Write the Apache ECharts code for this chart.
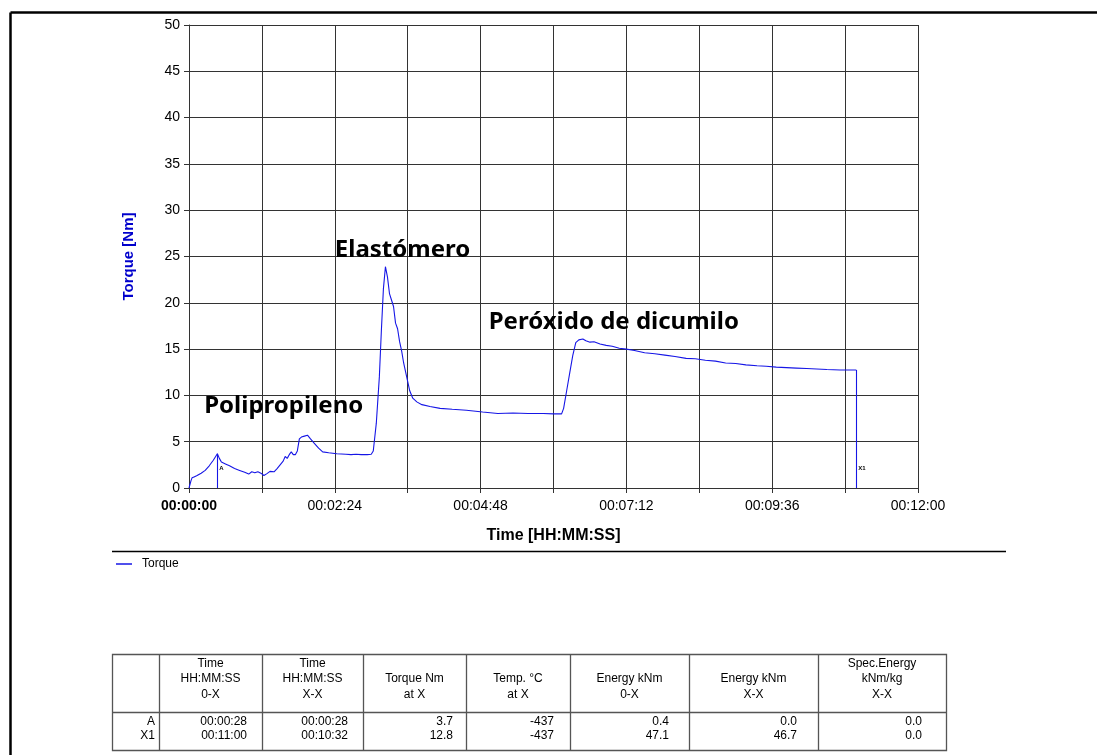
<!DOCTYPE html>
<html>
<head>
<meta charset="utf-8">
<script src="https://cdn.jsdelivr.net/npm/echarts@6/dist/echarts.min.js"></script>
<style>
html,body{margin:0;padding:0;background:#fff;}
#chart{width:1097px;height:755px;}
</style>
</head>
<body>
<div id="chart"></div>
<script>
// ---- data ----
const timeSec = [0,2,3,5,8,12,16,20,24,28,30,32,36,40,45,50,55,59,62,65,68,71,74,77,80,84,87,90,93,95,97,99,101,103,105,107,109,111,114,117,120,124,128,132,138,146,155,160,165,170,176,180,182,185,188,190,192,194,196,198,200,202,204,206,208,210,212,215,218,221,225,230,238,248,260,274,290,305,320,335,350,360,368,370,373,376,379,382,385,389,392,396,400,406,412,418,425,432,440,450,460,470,480,491,500,510,520,530,540,550,561,570,580,590,600,610,620,630,643,652,659];
const torqueNm = [0.0,0.8,1.1,1.2,1.35,1.6,1.9,2.4,3.0,3.7,3.2,2.8,2.6,2.4,2.1,1.9,1.7,1.5,1.75,1.65,1.75,1.6,1.35,1.55,1.8,1.75,2.1,2.5,2.9,3.4,3.2,3.6,3.9,3.6,3.6,4.0,5.3,5.5,5.6,5.7,5.3,4.8,4.3,3.9,3.8,3.7,3.65,3.6,3.65,3.6,3.6,3.65,4.0,7.0,12.0,17.0,21.5,23.9,22.8,21.0,20.3,19.6,17.8,17.2,15.8,14.8,13.5,12.0,10.5,9.7,9.3,9.0,8.8,8.6,8.5,8.4,8.2,8.05,8.1,8.05,8.05,8.0,8.0,8.6,10.5,12.4,14.3,15.7,16.0,16.1,15.9,15.75,15.8,15.55,15.4,15.3,15.1,15.0,14.85,14.6,14.5,14.35,14.2,14.0,13.95,13.8,13.7,13.5,13.45,13.3,13.2,13.15,13.05,13.0,12.95,12.9,12.85,12.8,12.75,12.75,12.75];
const markerNames = ['A','X1'];
const markerTimes = [28,659];
const markerTorque = [3.7,12.75];
const yTicks = {min:0, max:50, interval:5};
const xTicks = {min:0, max:720, interval:72, labelEvery:144};
const annotations = [
  {text:'Polipropileno', t:15, v:8.8},
  {text:'Elastómero', t:144, v:25.7},
  {text:'Peróxido de dicumilo', t:296, v:17.9}
];
const tableHeaders = [
  ['','',''],
  ['Time','HH:MM:SS','0-X'],
  ['Time','HH:MM:SS','X-X'],
  ['','Torque Nm','at X'],
  ['','Temp. °C','at X'],
  ['','Energy kNm','0-X'],
  ['','Energy kNm','X-X'],
  ['Spec.Energy','kNm/kg','X-X']
];
const tableRows = [
  ['A','00:00:28','00:00:28','3.7','-437','0.4','0.0','0.0'],
  ['X1','00:11:00','00:10:32','12.8','-437','47.1','46.7','0.0']
];

// ---- layout ----
const W = 1097, H = 755;
const gridL = 189, gridR = 918, gridT = 25, gridB = 488;
const lineColor = '#1616e6';
const font = '"Liberation Sans", Arial, sans-serif';

function fmt(s){
  const h = Math.floor(s/3600), m = Math.floor((s%3600)/60), sec = Math.round(s%60);
  const p = n => String(n).padStart(2,'0');
  return p(h)+':'+p(m)+':'+p(sec);
}

const chart = echarts.init(document.getElementById('chart'), null, {renderer:'canvas'});

const seriesData = timeSec.map((t,i)=>[t, torqueNm[i]]);

// table graphics
const colX = [112,159,262,363,466,570,689,818,946];
const colPad = [4,15,15,13,16,20,21,24];
const tTop = 654, tSep = 712, tBot = 750;
const headLines = [664, 679, 695];
const rowLines = [722, 736];
const tableEls = [];
const tStroke = '#555';
tableEls.push({type:'rect', shape:{x:colX[0]+0.5,y:tTop+0.5,width:colX[colX.length-1]-colX[0],height:tBot-tTop}, style:{fill:null, stroke:tStroke, lineWidth:1.3}, silent:true});
tableEls.push({type:'line', shape:{x1:colX[0],y1:tSep+0.5,x2:colX[colX.length-1],y2:tSep+0.5}, style:{stroke:tStroke, lineWidth:1.3}, silent:true});
for (let i=1;i<colX.length-1;i++){
  tableEls.push({type:'line', shape:{x1:colX[i]+0.5,y1:tTop,x2:colX[i]+0.5,y2:tBot}, style:{stroke:tStroke, lineWidth:1.3}, silent:true});
}
tableHeaders.forEach((hdr,c)=>{
  const cx = (colX[c]+colX[c+1])/2;
  hdr.forEach((txt,r)=>{
    if(!txt) return;
    tableEls.push({type:'text', x:cx, y:headLines[r], style:{text:txt, font:'12px '+font, fill:'#000', align:'center', verticalAlign:'middle'}, silent:true});
  });
});
tableRows.forEach((row,r)=>{
  row.forEach((txt,c)=>{
    tableEls.push({type:'text', x:colX[c+1]-colPad[c], y:rowLines[r], style:{text:txt, font:'12px '+font, fill:'#000', align:'right', verticalAlign:'middle'}, silent:true});
  });
});

const option = {
  backgroundColor:'#fff',
  animation:false,
  grid:{left:gridL, right:W-gridR, top:gridT, bottom:H-gridB, containLabel:false},
  legend:{
    left:111, top:553, itemWidth:16, itemHeight:1.5, itemGap:8, icon:'rect',
    textStyle:{fontFamily:font, fontSize:12, color:'#000', padding:[0,0,0,5]},
    data:['Torque']
  },
  xAxis:{
    type:'value', min:xTicks.min, max:xTicks.max, interval:xTicks.interval,
    name:'Time [HH:MM:SS]', nameLocation:'middle', nameGap:40,
    nameTextStyle:{fontFamily:font, fontSize:16, fontWeight:'bold', color:'#000'},
    axisLine:{show:true, lineStyle:{color:'#333', width:1}},
    axisTick:{show:true, length:5, lineStyle:{color:'#333'}},
    splitLine:{show:true, lineStyle:{color:'#333', width:1}},
    axisLabel:{
      margin:11, fontFamily:font, fontSize:14, color:'#000', showMinLabel:true, showMaxLabel:true,
      formatter:(v)=>{ if (v % xTicks.labelEvery !== 0) return ''; return v===0 ? '{b|'+fmt(v)+'}' : fmt(v); },
      rich:{b:{fontFamily:font, fontSize:14, fontWeight:'bold', color:'#000'}}
    }
  },
  yAxis:{
    type:'value', min:yTicks.min, max:yTicks.max, interval:yTicks.interval,
    name:'Torque [Nm]', nameLocation:'middle', nameGap:53, nameRotate:90,
    nameTextStyle:{fontFamily:font, fontSize:15, fontWeight:'bold', color:'#0000cc'},
    axisLine:{show:true, lineStyle:{color:'#333', width:1}},
    axisTick:{show:true, length:5, lineStyle:{color:'#333'}},
    splitLine:{show:true, lineStyle:{color:'#333', width:1}},
    axisLabel:{margin:9, fontFamily:font, fontSize:14, color:'#000'}
  },
  series:[
    {
      name:'Torque', type:'line', data:seriesData, showSymbol:false, symbol:'none',
      lineStyle:{color:lineColor, width:1.1}, itemStyle:{color:lineColor},
      z:5,
      markLine:{
        silent:true, symbol:['none','none'], animation:false,
        lineStyle:{color:lineColor, type:'solid', width:1.1},
        label:{show:false},
        data: markerTimes.map((t,i)=>[{coord:[t, markerTorque[i]]},{coord:[t, 0]}])
      },
      markPoint:{
        silent:true, symbol:'circle', symbolSize:0, animation:false,
        label:{show:true, position:'right', distance:2, fontFamily:font, fontSize:6, fontWeight:'bold', color:'#000', formatter:(p)=>p.name},
        data: markerTimes.map((t,i)=>({name:markerNames[i], coord:[t, 2.15]}))
      }
    },
    {
      name:'labels', type:'scatter', symbolSize:0, silent:true, z:6,
      itemStyle:{color:'#000', opacity:1},
      data: annotations.map(a=>({value:[a.t, a.v], name:a.text})),
      label:{show:true, position:'right', distance:0, formatter:(p)=>p.name, opacity:1,
        fontFamily:'"Noto Sans", "Open Sans", sans-serif', fontSize:24, fontWeight:'bold', color:'#000'}
    }
  ],
  graphic:[
    {type:'line', shape:{x1:10.5,y1:12.5,x2:W+5,y2:12.5}, style:{stroke:'#000', lineWidth:2.5}, silent:true},
    {type:'line', shape:{x1:10.5,y1:12.5,x2:10.5,y2:H+5}, style:{stroke:'#000', lineWidth:2.5}, silent:true},
    {type:'line', shape:{x1:112,y1:551.5,x2:1006,y2:551.5}, style:{stroke:'#000', lineWidth:1.3}, silent:true},
    {type:'group', children:tableEls}
  ]
};
chart.setOption(option);
</script>
</body>
</html>
